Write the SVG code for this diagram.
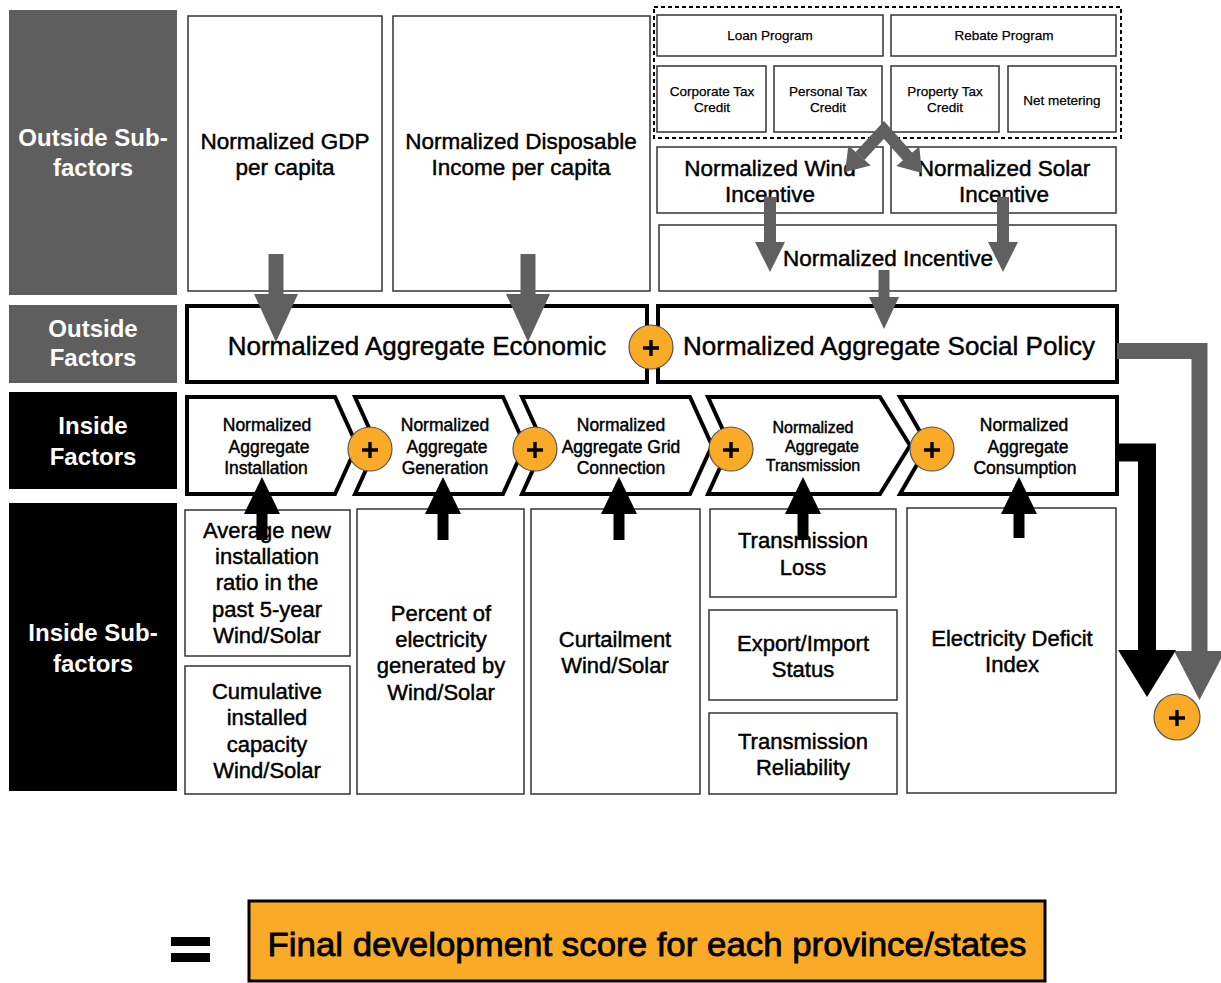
<svg xmlns="http://www.w3.org/2000/svg" width="1221" height="983" viewBox="0 0 1221 983">
  <style>
    text { font-family: "Liberation Sans", Arial, sans-serif; fill: #000; text-anchor: middle; }
    .lbl-gray { fill: #5e5e5e; }
    .lbl-black { fill: #000; }
    .lbl { fill: #fff; font-size: 24px; font-weight: bold; }
    .box { fill: #fff; stroke: #333; stroke-width: 1.5; }
    .thick { fill: #fff; stroke: #000; stroke-width: 4; stroke-linejoin: miter; }
    .t22, .t22s, .t26, .t17, .t16 { stroke: #000; stroke-width: 0.45; }
    .t13 { stroke: #000; stroke-width: 0.25; }
    .t22 { font-size: 22.5px; }
    .t22s { font-size: 22px; }
    .t13 { font-size: 13.5px; }
    .t26 { font-size: 26px; }
    .t17 { font-size: 17.5px; }
    .t16 { font-size: 16px; }
    .gray-shaft { stroke: #606060; fill: none; stroke-linejoin: miter; }
    .gray-head { fill: #606060; }
    .black-shaft { stroke: #000; fill: none; stroke-linejoin: miter; }
    .black-head { fill: #000; }
    .plus-circle { fill: #f9ab27; stroke: #555; stroke-width: 1.2; }
    .plus-sign { stroke: #000; stroke-width: 3.4; }
  </style>

  <!-- Row labels -->
  <g id="label-outside-sub">
    <rect class="lbl-gray" x="9" y="10" width="168" height="285"/>
    <text class="lbl" x="93" y="146">Outside Sub-</text>
    <text class="lbl" x="93" y="176">factors</text>
  </g>
  <g id="label-outside">
    <rect class="lbl-gray" x="9" y="305" width="168" height="78"/>
    <text class="lbl" x="93" y="337">Outside</text>
    <text class="lbl" x="93" y="366">Factors</text>
  </g>
  <g id="label-inside">
    <rect class="lbl-black" x="9" y="392" width="168" height="97"/>
    <text class="lbl" x="93" y="434">Inside</text>
    <text class="lbl" x="93" y="465">Factors</text>
  </g>
  <g id="label-inside-sub">
    <rect class="lbl-black" x="9" y="503" width="168" height="288"/>
    <text class="lbl" x="93" y="641">Inside Sub-</text>
    <text class="lbl" x="93" y="672">factors</text>
  </g>

  <!-- Outside sub-factors -->
  <g id="gdp">
    <rect class="box" x="188" y="16" width="194" height="275"/>
    <text class="t22" x="285" y="149">Normalized GDP</text>
    <text class="t22" x="285" y="175">per capita</text>
  </g>
  <g id="income">
    <rect class="box" x="393" y="16" width="257" height="275"/>
    <text class="t22" x="521" y="149">Normalized Disposable</text>
    <text class="t22" x="521" y="175">Income per capita</text>
  </g>

  <g id="incentive-programs">
    <rect x="654" y="7" width="467" height="131" fill="none" stroke="#000" stroke-width="2" stroke-dasharray="4 3"/>
  </g>
  <g id="loan">
    <rect class="box" x="657" y="15" width="226" height="41"/>
    <text class="t13" x="770" y="40">Loan Program</text>
  </g>
  <g id="rebate">
    <rect class="box" x="891" y="15" width="225" height="41"/>
    <text class="t13" x="1004" y="40">Rebate Program</text>
  </g>
  <g id="corporate-tax">
    <rect class="box" x="657" y="66" width="109" height="66"/>
    <text class="t13" x="712" y="96">Corporate Tax</text>
    <text class="t13" x="712" y="112">Credit</text>
  </g>
  <g id="personal-tax">
    <rect class="box" x="774" y="66" width="108" height="66"/>
    <text class="t13" x="828" y="96">Personal Tax</text>
    <text class="t13" x="828" y="112">Credit</text>
  </g>
  <g id="property-tax">
    <rect class="box" x="891" y="66" width="108" height="66"/>
    <text class="t13" x="945" y="96">Property Tax</text>
    <text class="t13" x="945" y="112">Credit</text>
  </g>
  <g id="net-metering">
    <rect class="box" x="1008" y="66" width="108" height="66"/>
    <text class="t13" x="1062" y="105">Net metering</text>
  </g>
  <g id="wind-incentive">
    <rect class="box" x="657" y="147" width="226" height="66"/>
    <text class="t22" x="770" y="176">Normalized Wind</text>
    <text class="t22" x="770" y="202">Incentive</text>
  </g>
  <g id="solar-incentive">
    <rect class="box" x="891" y="147" width="225" height="66"/>
    <text class="t22" x="1004" y="176">Normalized Solar</text>
    <text class="t22" x="1004" y="202">Incentive</text>
  </g>
  <g id="incentive">
    <rect class="box" x="659" y="225" width="457" height="66"/>
    <text class="t22" x="888" y="266">Normalized Incentive</text>
  </g>

  <!-- Outside factors -->
  <g id="economic">
    <rect class="thick" x="187" y="306" width="460" height="76"/>
    <text class="t26" x="417" y="355">Normalized Aggregate Economic</text>
  </g>
  <g id="social-policy">
    <rect class="thick" x="658" y="306" width="459" height="76"/>
    <text class="t26" x="889" y="355">Normalized Aggregate Social Policy</text>
  </g>

  <!-- Inside factors (chevron chain) -->
  <g id="installation">
    <path class="thick" d="M187,397 L335,397 L357,445.5 L335,494 L187,494 Z"/>
    <text class="t17" x="267" y="431">Normalized</text>
    <text class="t17" x="269" y="453">Aggregate</text>
    <text class="t17" x="266" y="474">Installation</text>
  </g>
  <g id="generation">
    <path class="thick" d="M355,397 L503,397 L525,445.5 L503,494 L355,494 L377,445.5 Z"/>
    <text class="t17" x="445" y="431">Normalized</text>
    <text class="t17" x="447" y="453">Aggregate</text>
    <text class="t17" x="445" y="474">Generation</text>
  </g>
  <g id="grid-connection">
    <path class="thick" d="M522,397 L690,397 L712,445.5 L690,494 L522,494 L544,445.5 Z"/>
    <text class="t17" x="621" y="431">Normalized</text>
    <text class="t17" x="621" y="453">Aggregate Grid</text>
    <text class="t17" x="621" y="474">Connection</text>
  </g>
  <g id="transmission">
    <path class="thick" d="M708,397 L880,397 L910,445.5 L880,494 L708,494 L730,445.5 Z"/>
    <text class="t16" x="813" y="433">Normalized</text>
    <text class="t16" x="822" y="452">Aggregate</text>
    <text class="t16" x="813" y="471">Transmission</text>
  </g>
  <g id="consumption">
    <path class="thick" d="M900,397 L1117,397 L1117,494 L900,494 L928,445.5 Z"/>
    <text class="t17" x="1024" y="431">Normalized</text>
    <text class="t17" x="1028" y="453">Aggregate</text>
    <text class="t17" x="1025" y="474">Consumption</text>
  </g>

  <!-- Inside sub-factors -->
  <g id="avg-installation">
    <rect class="box" x="185" y="510" width="165" height="146"/>
    <text class="t22s" x="267" y="538">Average new</text>
    <text class="t22s" x="267" y="564">installation</text>
    <text class="t22s" x="267" y="590">ratio in the</text>
    <text class="t22s" x="267" y="617">past 5-year</text>
    <text class="t22s" x="267" y="643">Wind/Solar</text>
  </g>
  <g id="cumulative-capacity">
    <rect class="box" x="185" y="666" width="165" height="128"/>
    <text class="t22s" x="267" y="699">Cumulative</text>
    <text class="t22s" x="267" y="725">installed</text>
    <text class="t22s" x="267" y="752">capacity</text>
    <text class="t22s" x="267" y="778">Wind/Solar</text>
  </g>
  <g id="percent-generated">
    <rect class="box" x="357" y="509" width="167" height="285"/>
    <text class="t22s" x="441" y="621">Percent of</text>
    <text class="t22s" x="441" y="647">electricity</text>
    <text class="t22s" x="441" y="673">generated by</text>
    <text class="t22s" x="441" y="700">Wind/Solar</text>
  </g>
  <g id="curtailment">
    <rect class="box" x="531" y="509" width="169" height="285"/>
    <text class="t22s" x="615" y="647">Curtailment</text>
    <text class="t22s" x="615" y="673">Wind/Solar</text>
  </g>
  <g id="transmission-loss">
    <rect class="box" x="710" y="509" width="186" height="88"/>
    <text class="t22s" x="803" y="548">Transmission</text>
    <text class="t22s" x="803" y="575">Loss</text>
  </g>
  <g id="export-import">
    <rect class="box" x="709" y="610" width="188" height="90"/>
    <text class="t22s" x="803" y="651">Export/Import</text>
    <text class="t22s" x="803" y="677">Status</text>
  </g>
  <g id="transmission-reliability">
    <rect class="box" x="709" y="713" width="188" height="81"/>
    <text class="t22s" x="803" y="749">Transmission</text>
    <text class="t22s" x="803" y="775">Reliability</text>
  </g>
  <g id="deficit-index">
    <rect class="box" x="907" y="508" width="209" height="285"/>
    <text class="t22s" x="1012" y="646">Electricity Deficit</text>
    <text class="t22s" x="1012" y="672">Index</text>
  </g>

  <!-- Result -->
  <g id="equals">
    <rect x="171" y="937" width="39" height="9" fill="#000"/>
    <rect x="171" y="953" width="39" height="9" fill="#000"/>
  </g>
  <g id="final-score">
    <rect x="249" y="901" width="796" height="80" fill="#f9ab27" stroke="#000" stroke-width="3"/>
    <text x="647" y="956" font-size="34" stroke="#000" stroke-width="0.8" textLength="759" lengthAdjust="spacingAndGlyphs">Final development score for each province/states</text>
  </g>

  <!-- Connectors -->
  <g id="connectors">
    <!-- sub-factors into economic -->
    <line class="gray-shaft" x1="276" y1="254" x2="276" y2="296" stroke-width="15"/>
    <polygon class="gray-head" points="254,294 298,294 276,342"/>
    <line class="gray-shaft" x1="528" y1="254" x2="528" y2="296" stroke-width="15"/>
    <polygon class="gray-head" points="506,294 550,294 528,342"/>

    <!-- programs split into wind and solar incentives -->
    <polyline class="gray-shaft" points="860,156 884,130 908,157" stroke-width="12"/>
    <polygon class="gray-head" points="870.8,165.4 848.4,145.6 845,172"/>
    <polygon class="gray-head" points="919.3,146.5 896.3,165.9 922,173"/>

    <!-- wind / solar into incentive -->
    <line class="gray-shaft" x1="770" y1="197" x2="770" y2="244" stroke-width="12"/>
    <polygon class="gray-head" points="755,242 785,242 770,272"/>
    <line class="gray-shaft" x1="1003" y1="197" x2="1003" y2="244" stroke-width="12"/>
    <polygon class="gray-head" points="988,242 1018,242 1003,272"/>

    <!-- incentive into social policy -->
    <line class="gray-shaft" x1="884" y1="270" x2="884" y2="299" stroke-width="11"/>
    <polygon class="gray-head" points="869,297 899,297 884,329"/>

    <!-- outside factors to total -->
    <polyline class="gray-shaft" points="1117,351 1199.5,351 1199.5,653" stroke-width="16"/>
    <polygon class="gray-head" points="1174,651 1225,651 1199.5,700"/>

    <!-- inside factors to total -->
    <polyline class="black-shaft" points="1117,452.5 1147,452.5 1147,652" stroke-width="18"/>
    <polygon class="black-head" points="1118,650 1176,650 1147,697"/>

    <!-- sub-factors up into inside factors -->
    <line class="black-shaft" x1="262" y1="512" x2="262" y2="540" stroke-width="11"/>
    <polygon class="black-head" points="244,514 280,514 262,477"/>
    <line class="black-shaft" x1="443" y1="512" x2="443" y2="540" stroke-width="11"/>
    <polygon class="black-head" points="425,514 461,514 443,477"/>
    <line class="black-shaft" x1="619" y1="512" x2="619" y2="540" stroke-width="11"/>
    <polygon class="black-head" points="601,514 637,514 619,477"/>
    <line class="black-shaft" x1="803" y1="512" x2="803" y2="540" stroke-width="11"/>
    <polygon class="black-head" points="785,514 821,514 803,477"/>
    <line class="black-shaft" x1="1019" y1="512" x2="1019" y2="538" stroke-width="11"/>
    <polygon class="black-head" points="1001,514 1037,514 1019,477"/>
  </g>

  <!-- Sum operators -->
  <g id="plus-outside">
    <circle class="plus-circle" cx="651" cy="347" r="22"/>
    <path class="plus-sign" d="M643,348 H659 M651,340 V356"/>
  </g>
  <g id="plus-1">
    <circle class="plus-circle" cx="370" cy="449" r="22"/>
    <path class="plus-sign" d="M362,450 H378 M370,442 V458"/>
  </g>
  <g id="plus-2">
    <circle class="plus-circle" cx="535" cy="449" r="22"/>
    <path class="plus-sign" d="M527,450 H543 M535,442 V458"/>
  </g>
  <g id="plus-3">
    <circle class="plus-circle" cx="731" cy="449" r="22"/>
    <path class="plus-sign" d="M723,450 H739 M731,442 V458"/>
  </g>
  <g id="plus-4">
    <circle class="plus-circle" cx="932" cy="449" r="22"/>
    <path class="plus-sign" d="M924,450 H940 M932,442 V458"/>
  </g>
  <g id="plus-total">
    <circle class="plus-circle" cx="1177" cy="717" r="23"/>
    <path class="plus-sign" d="M1169,718 H1185 M1177,710 V726"/>
  </g>
</svg>
